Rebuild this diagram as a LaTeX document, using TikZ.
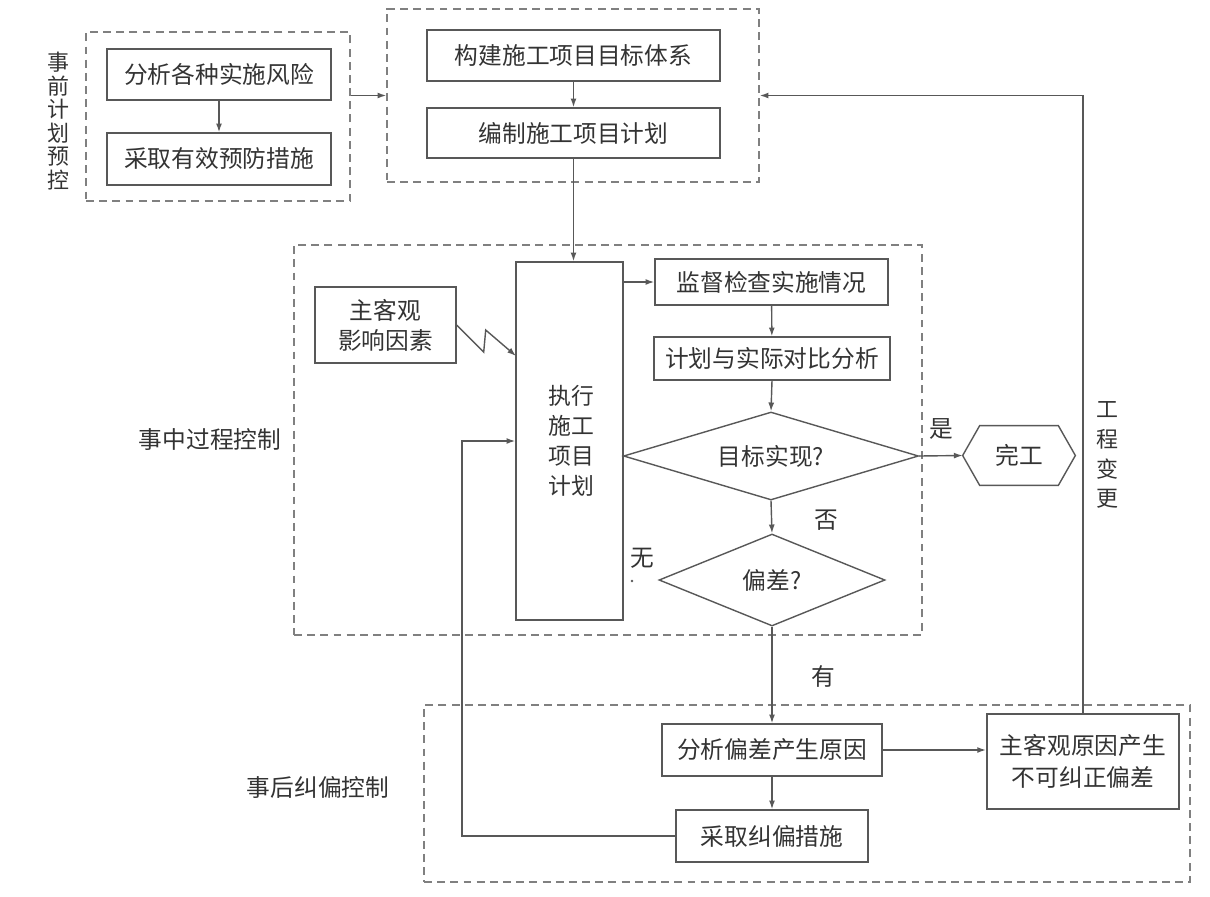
\documentclass[tikz,border=0pt]{standalone}
\usepackage{fontspec}
\setmainfont{Noto Sans CJK SC}
\usetikzlibrary{shapes.geometric,arrows.meta}
\definecolor{ln}{HTML}{585858}
\definecolor{dl}{HTML}{808080}
\definecolor{tx}{HTML}{333333}
\def\u{0.02cm}
\begin{document}
\begin{tikzpicture}[x=0.02cm,y=-0.02cm,
  font=\fontsize{13.5}{16}\selectfont, text=tx,
  box/.style 2 args={draw=ln, line width=0.8pt, inner sep=0pt, minimum width=#1*\u, minimum height=#2*\u},
  grp/.style 2 args={draw=dl, line width=0.8pt, dash pattern=on 4.5pt off 3pt, inner sep=0pt, minimum width=#1*\u, minimum height=#2*\u},
  dia/.style 2 args={diamond, draw=ln, line width=0.8pt, inner sep=0pt, minimum width=#1*\u, minimum height=#2*\u},
  arr/.style={draw=ln, line width=0.8pt, -{Latex[length=5pt,width=3.4pt]}},
  con/.style={draw=ln, line width=0.8pt},
  lbl/.style={inner sep=0pt},
  vtext/.style={inner sep=0pt, align=center, text width=1.2em}
]
\useasboundingbox (0,0) rectangle (1210,896);

% groups
\node[grp={264}{169}] (pre) at (218,116.5) {};
\node[grp={372}{173}] (plan) at (573,95.5) {};
\node[grp={628}{390}] (mid) at (608,440) {};
\node[grp={766}{177}] (post) at (807,793.5) {};

% pre-control
\node[box={224}{51}] (pre1) at (219,74.5) {分析各种实施风险};
\node[box={224}{52}] (pre2) at (219,159) {采取有效预防措施};
\node[vtext, font=\fontsize{12.5}{13.4}\selectfont] (preL) at (58,121) {事\\前\\计\\划\\预\\控};

% plan
\node[box={293}{51}] (obj) at (573.5,55.5) {构建施工项目目标体系};
\node[box={293}{50}] (plan2) at (573.5,133) {编制施工项目计划};

% middle
\node[box={107}{358}] (exec) at (569.5,441) {};
\node[vtext, font=\fontsize{13}{17}\selectfont, text width=2.2em] (execT) at (568,441) {执行\\施工\\项目\\计划};
\node[box={141}{76}, align=center, font=\fontsize{13.5}{17}\selectfont] (factor) at (385.5,325) {主客观\\影响因素};
\node[box={233}{46}] (sup) at (771.5,282) {监督检查实施情况};
\node[box={236}{43}] (cmp) at (772,358.5) {计划与实际对比分析};
\node[dia={295}{88}, label={center:目标实现?}] (d1) at (771,456) {};
\node[dia={226}{92}, label={center:偏差?}] (d2) at (772,580) {};
\node[inner sep=0pt, minimum width=112*\u, minimum height=59*\u] (done) at (1019,455.5) {完工};
\draw[con] (done.west) -- ([xshift=17*\u]done.north west) -- ([xshift=-17*\u]done.north east)
  -- (done.east) -- ([xshift=-17*\u]done.south east) -- ([xshift=17*\u]done.south west) -- cycle;

% post
\node[box={220}{52}] (ana) at (772,750) {分析偏差产生原因};
\node[box={192}{52}] (take) at (772,836) {采取纠偏措施};
\node[box={192}{95}, align=center, line width=1.1pt, font=\fontsize{13.5}{18}\selectfont] (subj) at (1083,761.5) {主客观原因产生\\不可纠正偏差};

% group labels
\node[lbl] (midL) at (210,440) {事中过程控制};
\node[lbl] (postL) at (318,787) {事后纠偏控制};
\node[vtext, font=\fontsize{12.5}{17}\selectfont] (chgL) at (1107,455) {工\\程\\变\\更};

% connectors
\draw[arr] (pre1) -- (pre2);
\draw[arr] (pre.east |- plan.west) -- (plan.west);
\draw[arr] (obj) -- (plan2);
\draw[arr] (plan2.south) -- (plan2.south |- exec.north);
\draw[arr] (exec.east |- sup.west) -- (sup.west);
\draw[arr] (sup) -- (cmp);
\draw[arr] (cmp.south) -- (d1.north);
\draw[arr] (d1.east) -- (done.west) node[lbl, pos=0.5, above=9pt] (yes) {是};
\draw[arr] (d1.south) -- (d2.north);
\node[lbl] (no) at (826,520) {否};
\draw[arr] (d2.south) -- (ana.north);
\node[lbl] (you) at (823,676) {有};
\node[lbl] (wu) at (642,558) {无};
\coordinate (dot) at (632,581);
\fill[ln] (dot) circle (1.3*\u);
\draw[arr] (ana) -- (take);
\draw[arr] (ana.east) -- (ana.east -| subj.west);
\coordinate (fb) at (462,441);
\draw[arr] (take.west) -| (fb) -- (exec.west);
\draw[arr] (subj.north) |- (plan.east);
\coordinate (lz) at (516,356);
\draw[arr] (factor.east) -- ++(27,27) -- ++(2,-22) -- (lz);
\end{tikzpicture}
\end{document}
